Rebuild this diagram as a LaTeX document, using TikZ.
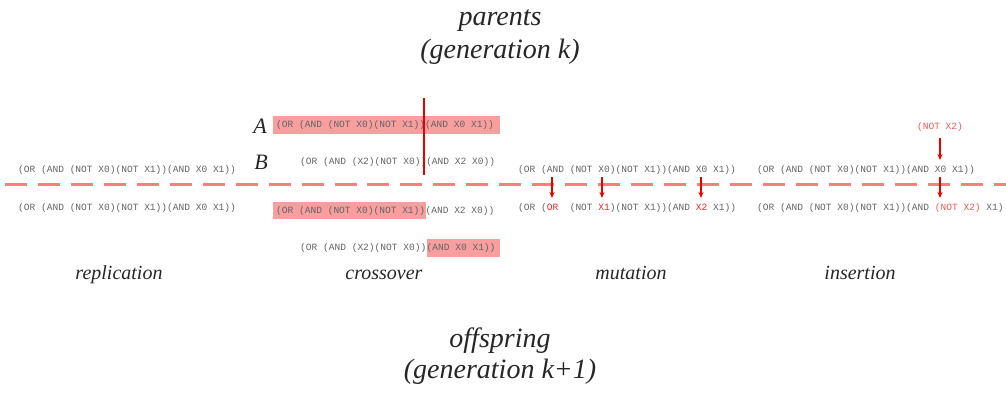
\documentclass[tikz,border=0pt]{standalone}
\usepackage{fontspec}
\setmainfont{Liberation Serif}
\setmonofont{Liberation Mono}
\usetikzlibrary{arrows.meta,backgrounds}
\definecolor{tgray}{RGB}{100,100,100}
\definecolor{hl}{RGB}{248,158,158}
\definecolor{dashc}{RGB}{245,128,128}
\definecolor{mred}{RGB}{230,40,40}
\definecolor{ired}{RGB}{235,90,90}
\definecolor{cutred}{RGB}{235,0,0}
\begin{document}
\begin{tikzpicture}[x=1pt,y=-1pt,
  mono/.style={font=\fontsize{9.55}{11}\selectfont\ttfamily, text=tgray, inner sep=0pt, anchor=west, text height=7pt, text depth=2pt},
  title/.style={font=\fontsize{28}{30}\selectfont\itshape, anchor=base, text=black!85, inner sep=0pt},
  oplabel/.style={font=\fontsize{20}{22}\selectfont\itshape, anchor=base, text=black!85, inner sep=0pt},
  letter/.style={font=\fontsize{22}{24}\selectfont\itshape, anchor=base, text=black!85, inner sep=0pt},
  hlbox/.style={fill=hl},
  arr/.style={draw=cutred, line width=1.1pt, -{Stealth[length=6pt,width=5pt]}},
  sepline/.style={draw=dashc, line width=3.8pt, dash pattern=on 22pt off 10.95pt, dash phase=27.95pt},
  cutline/.style={draw=cutred, line width=2.8pt},
]
\useasboundingbox (0,0) rectangle (1006,394);

% titles
\node[title] (t1) at (500,25) {parents};
\node[title] (t2) at (500,58) {(generation k)};
\node[title] (t3) at (500,347) {offspring};
\node[title] (t4) at (500,378) {(generation k+1)};

% separator
\coordinate (sl) at (0,184.5);
\coordinate (sr) at (1006,184.5);
\draw[sepline] (sl) -- (sr);

% replication
\node[mono] (rp) at (18,170) {(OR (AND (NOT X0)(NOT X1))(AND X0 X1))};
\node[mono] (ro) at (18,208) {(OR (AND (NOT X0)(NOT X1))(AND X0 X1))};

% crossover
\node[letter] (la) at (260,133) {A};
\node[letter] (lb) at (261,169) {B};
\node[mono] (pa) at (276,125) {(OR (AND (NOT X0)(NOT X1))(AND X0 X1))};
\node[mono] (pb) at (300,162) {(OR (AND (X2)(NOT X0))(AND X2 X0))};
\node[mono] (o1a) at (276,210.5) {(OR (AND (NOT X0)(NOT X1))};
\node[mono, anchor=west] (o1b) at (o1a.east) {(AND X2 X0))};
\node[mono] (o2a) at (300,248) {(OR (AND (X2)(NOT X0))};
\node[mono, anchor=west] (o2b) at (o2a.east) {(AND X0 X1))};
\begin{scope}[on background layer]
  \path[hlbox] ([shift={(-3pt,-9pt)}]pa.west) rectangle ([shift={(5.5pt,9pt)}]pa.east);
  \path[hlbox] ([shift={(-3pt,-8.5pt)}]o1a.west) rectangle ([shift={(1pt,8.5pt)}]o1a.east);
  \path[hlbox] ([shift={(0.5pt,-9pt)}]o2b.west) rectangle ([shift={(4.5pt,9pt)}]o2b.east);
\end{scope}
\coordinate (ct) at (424,98);
\coordinate (cb) at (424,175);
\draw[cutline] (ct) -- (cb);

% mutation
\node[mono] (mp) at (518,170) {(OR (AND (NOT X0)(NOT X1))(AND X0 X1))};
\node[mono] (mo) at (518,208) {(OR (\textcolor{mred}{OR}\ \ (NOT \textcolor{mred}{X1})(NOT X1))(AND \textcolor{mred}{X2} X1))};
\coordinate (m1s) at (552,177); \coordinate (m1e) at (552,198);
\coordinate (m2s) at (602,177); \coordinate (m2e) at (602,198);
\coordinate (m3s) at (701,177); \coordinate (m3e) at (701,198);
\draw[arr] (m1s) -- (m1e);
\draw[arr] (m2s) -- (m2e);
\draw[arr] (m3s) -- (m3e);

% insertion
\node[mono, anchor=center, text=ired] (ins) at (940,127) {(NOT X2)};
\node[mono] (ip) at (757,170) {(OR (AND (NOT X0)(NOT X1))(AND X0 X1))};
\node[mono] (io) at (757,208) {(OR (AND (NOT X0)(NOT X1))(AND \textcolor{ired}{(NOT X2)} X1)};
\coordinate (i1e) at (940,160);
\coordinate (i2s) at (940,177); \coordinate (i2e) at (940,198);
\draw[arr] ([yshift=-6pt]ins.south) -- (i1e);
\draw[arr] (i2s) -- (i2e);

% operation labels
\node[oplabel] (lrep) at (119,279) {replication};
\node[oplabel] (lcro) at (384,279) {crossover};
\node[oplabel] (lmut) at (631,279) {mutation};
\node[oplabel] (lins) at (860,279) {insertion};
\end{tikzpicture}
\end{document}
